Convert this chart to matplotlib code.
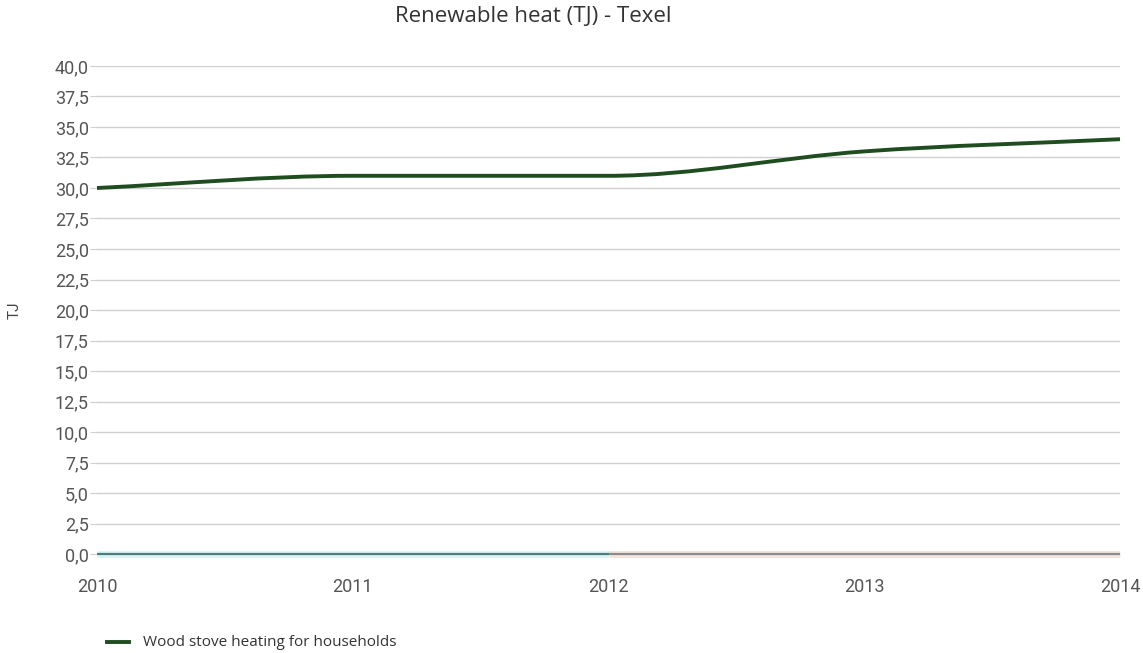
import matplotlib
matplotlib.use("Agg")
import matplotlib.pyplot as plt
from matplotlib.path import Path
from matplotlib.patches import PathPatch
import numpy as np

years = [2010, 2011, 2012, 2013, 2014]
wood_stove = [30.0, 31.0, 31.0, 33.0, 34.0]
other_a_years = [2010, 2011, 2012]
other_a = [0.0, 0.0, 0.0]
other_b_years = [2012, 2013, 2014]
other_b = [0.0, 0.0, 0.0]
yticks = [0, 2.5, 5, 7.5, 10, 12.5, 15, 17.5, 20, 22.5, 25, 27.5, 30, 32.5, 35, 37.5, 40]
ytick_labels = [f"{v:.1f}".replace(".", ",") for v in yticks]
title = "Renewable heat (TJ) - Texel"
legend_label = "Wood stove heating for households"

plt.rcParams['font.family'] = ['Roboto', 'DejaVu Sans']

fig = plt.figure(figsize=(11.43, 6.53), dpi=100)
ax = fig.add_axes([97/1143, 1-554/653, (1120-97)/1143, (554-66)/653])


def monotone_path(xs, ys):
    # monotone cubic (Fritsch-Carlson) tangents, drawn as Bezier segments
    xs = np.asarray(xs, float); ys = np.asarray(ys, float)
    h = np.diff(xs); d = np.diff(ys) / h
    n = len(xs)
    m = np.zeros(n)
    m[0] = d[0]; m[-1] = d[-1]
    for i in range(1, n-1):
        if d[i-1] * d[i] <= 0:
            m[i] = 0
        else:
            m[i] = (d[i-1] + d[i]) / 2
    for i in range(n-1):
        if d[i] == 0:
            m[i] = m[i+1] = 0
    verts = [(xs[0], ys[0])]
    codes = [Path.MOVETO]
    for i in range(n-1):
        verts += [(xs[i] + h[i]/3, ys[i] + m[i]*h[i]/3),
                  (xs[i+1] - h[i]/3, ys[i+1] - m[i+1]*h[i]/3),
                  (xs[i+1], ys[i+1])]
        codes += [Path.CURVE4]*3
    return Path(verts, codes)


ax.add_patch(PathPatch(monotone_path(years, wood_stove), facecolor='none',
                       edgecolor='#1f4d1f', lw=2.8, capstyle='butt', zorder=5,
                       clip_on=False))
ax.plot(other_b_years, other_b, color='#f3e6df', lw=5, zorder=3, clip_on=False,
        solid_capstyle='butt')
ax.plot(other_a_years, other_a, color='#ddf2f2', lw=5, zorder=3, clip_on=False,
        solid_capstyle='butt')
ax.plot(other_b_years, other_b, color='#8c8c8c', lw=1.6, zorder=4, clip_on=False,
        solid_capstyle='butt')
ax.plot(other_a_years, other_a, color='#4e7c7e', lw=1.6, zorder=4, clip_on=False,
        solid_capstyle='butt')

ax.set_xlim(2010, 2014)
ax.set_ylim(0, 40)
ax.set_yticks(yticks)
ax.set_yticklabels(ytick_labels)
ax.set_xticks(years)
ax.set_xticklabels([str(y) for y in years])
ax.grid(axis='y', color='#d0d0d0', lw=1)
ax.set_axisbelow(True)
for s in ax.spines.values():
    s.set_visible(False)
ax.tick_params(axis='y', length=5, color='#d0d0d0', labelsize=13, labelcolor='#555555', pad=1)
ax.tick_params(axis='x', length=0, labelsize=13, labelcolor='#555555', pad=17)

fig.text(533/1143, 1-17/653, title, ha='center', va='center', fontsize=16,
         color='#333333', family=['Open Sans', 'DejaVu Sans'])
fig.text(15/1143, 1-310/653, "TJ", rotation=90, ha='center', va='center',
         fontsize=11, color='#444444')

fig.add_artist(plt.Line2D([107/1143, 129/1143], [1-642/653, 1-642/653],
                          color='#1f4d1f', lw=2.8, transform=fig.transFigure))
fig.text(143/1143, 1-642/653, legend_label, ha='left', va='center', fontsize=11,
         color='#333333', family=['Open Sans', 'DejaVu Sans'])

fig.savefig("out.png", dpi=100, facecolor='white')
